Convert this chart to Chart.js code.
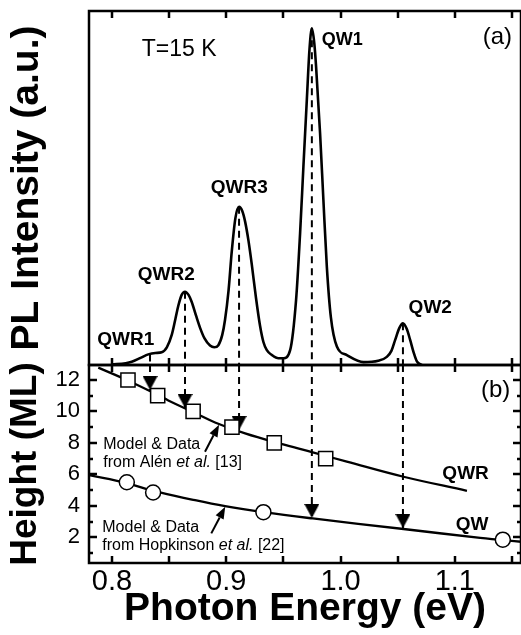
<!DOCTYPE html>
<html>
<head>
<meta charset="utf-8">
<script src="https://cdn.jsdelivr.net/npm/chart.js@4.4.1/dist/chart.umd.min.js"></script>
<style>
  html, body { margin: 0; padding: 0; background: #fff; }
</style>
</head>
<body>
<canvas id="chart" width="521" height="635"></canvas>
<script>
const FONT = "'Liberation Sans', Arial, Helvetica, sans-serif"

// axis ranges
const X_MIN = 0.7799, X_MAX = 1.1579
const H_MIN = 0.37, H_MAX = 12.95

// tick labels
const xTicks = [0.8, 0.9, 1.0, 1.1]
const yTicks = [2, 4, 6, 8, 10, 12]

// (a) PL spectrum, T = 15 K
const plEnergy = [
  0.800, 0.812, 0.8173, 0.825, 0.8318, 0.838, 0.8435, 0.848, 0.8523, 0.8555,
  0.8581, 0.861, 0.8639, 0.867, 0.8698, 0.8735, 0.8771, 0.881, 0.8858, 0.8895,
  0.8931, 0.8965, 0.8989, 0.902, 0.9048, 0.908, 0.9112, 0.914, 0.9165, 0.9195,
  0.9223, 0.926, 0.9296, 0.9325, 0.9355, 0.940, 0.9456, 0.950, 0.9559, 0.9611,
  0.9646, 0.9675, 0.9705, 0.9728, 0.9749, 0.9770, 0.9786, 0.9821, 0.9850, 0.9880,
  0.9915, 0.9968, 1.0055, 1.0200, 1.033, 1.0405, 1.0445, 1.0478, 1.0515, 1.0546,
  1.0578, 1.0609, 1.064, 1.0668, 1.0712,
]
const plIntensity = [
  0.2, 0.5, 0.9, 2.0, 3.0, 3.4, 3.6, 5.0, 8.5, 13.0,
  16.8, 19.8, 20.7, 19.8, 17.8, 14.0, 10.5, 7.5, 5.5, 5.0,
  5.6, 8.5, 12.7, 21.0, 32.0, 41.5, 44.7, 43.5, 40.5, 35.0,
  28.5, 19.0, 11.0, 6.5, 4.2, 2.8, 1.9, 1.9, 4.2, 18.4,
  37.2, 56.0, 74.9, 89.0, 95.1, 91.0, 84.3, 65.4, 46.6, 27.8,
  13.6, 5.2, 2.8, 0.8, 1.2, 2.3, 4.0, 7.1, 10.5, 11.8,
  10.3, 7.1, 3.5, 1.0, 0.0,
]

// peaks and where their arrows land in (b)
const peakNames = ["QWR1", "QWR2", "QWR3", "QW1", "QW2"]
const peakEnergy = [0.8333, 0.8639, 0.9112, 0.9749, 1.0546]
const peakIntensity = [3.0, 20.7, 44.7, 95.1, 11.8]
const arrowHeight = [11.36, 10.22, 8.82, 3.23, 2.59]

// (b) model curves
const qwrModelE = [0.788, 0.8143, 0.840, 0.8493, 0.8712, 0.8902, 0.9165, 0.9471, 0.9757, 1.0055, 1.0551, 1.1106]
const qwrModelH = [12.78, 11.95, 11.05, 10.7, 9.95, 9.3, 8.6, 7.95, 7.4, 6.81, 5.85, 4.96]
const qwModelE = [0.7799, 0.8129, 0.8362, 0.870, 0.899, 0.9325, 0.9757, 1.0551, 1.1222, 1.1579]
const qwModelH = [5.95, 5.45, 4.95, 4.4, 3.98, 3.6, 3.2, 2.53, 1.97, 1.72]

// (b) data points
const qwrDataE = [0.814, 0.840, 0.871, 0.905, 0.942, 0.987]
const qwrDataH = [12, 11, 10, 9, 8, 7]
const qwDataE = [0.813, 0.836, 0.9325, 1.142]
const qwDataH = [5.5, 4.85, 3.6, 1.85]

const xy = (xs, ys) => xs.map((x, i) => ({ x, y: ys[i] }))

// dashed drop lines: peak -> bottom of (a), then top of (b) -> arrow tip
const dropA = peakEnergy.flatMap((e, i) => [{ x: e, y: peakIntensity[i] }, { x: e, y: 0 }, { x: e, y: null }])
const dropB = peakEnergy.flatMap((e, i) => [{ x: e, y: H_MAX }, { x: e, y: arrowHeight[i] }, { x: e, y: null }])

// triangle with its tip at the image centre, so the point sits on the tip
function arrowHead(w, h) {
  const c = document.createElement("canvas")
  c.width = w
  c.height = 2 * h
  const g = c.getContext("2d")
  g.fillStyle = "#000"
  g.beginPath()
  g.moveTo(0, 0)
  g.lineTo(w, 0)
  g.lineTo(w / 2, h)
  g.closePath()
  g.fill()
  return c
}

const textLabels = [
  { axis: "y1", x: 0.826, y: 87.3, text: "T=15 K", size: 23, align: "left" },
  { axis: "y1", x: 1.150, y: 90.7, text: "(a)", size: 24, align: "right" },
  { axis: "y1", x: 0.9836, y: 90.4, text: "QW1", size: 18, bold: true, align: "left" },
  { axis: "y1", x: 0.9114, y: 48.5, text: "QWR3", size: 19, bold: true },
  { axis: "y1", x: 0.8475, y: 24.0, text: "QWR2", size: 19, bold: true },
  { axis: "y1", x: 1.0785, y: 14.6, text: "QW2", size: 19, bold: true },
  { axis: "y1", x: 0.8121, y: 5.6, text: "QWR1", size: 19, bold: true },
  { axis: "y2", x: 1.1485, y: 10.92, text: "(b)", size: 24, align: "right" },
  { axis: "y2", x: 1.1094, y: 5.71, text: "QWR", size: 19, bold: true },
  { axis: "y2", x: 1.1152, y: 2.46, text: "QW", size: 19, bold: true },
  { axis: "y2", x: 0.7924, y: 7.59, parts: [["Model & Data", ""]], size: 16, align: "left" },
  { axis: "y2", x: 0.7924, y: 6.49, parts: [["from Alén ", ""], ["et al.", "italic"], [" [13]", ""]], size: 16, align: "left" },
  { axis: "y2", x: 0.7915, y: 2.36, parts: [["Model & Data", ""]], size: 16, align: "left" },
  { axis: "y2", x: 0.7915, y: 1.19, parts: [["from Hopkinson ", ""], ["et al.", "italic"], [" [22]", ""]], size: 16, align: "left" },
]

const pointers = [
  { from: [0.8814, 7.44], to: [0.8937, 9.16] },
  { from: [0.8869, 2.25], to: [0.8991, 3.94] },
]

const annotations = {
  id: "annotations",
  afterDatasetsDraw(chart) {
    const { ctx, scales } = chart
    const x = scales.x
    ctx.save()
    ctx.fillStyle = "#000"
    ctx.strokeStyle = "#000"
    ctx.textBaseline = "alphabetic"
    for (const l of textLabels) {
      const px = x.getPixelForValue(l.x)
      const py = scales[l.axis].getPixelForValue(l.y)
      const parts = l.parts || [[l.text, l.bold ? "bold" : ""]]
      const fonts = parts.map(p => `${p[1]} ${l.size}px ${FONT}`)
      const widths = parts.map((p, i) => { ctx.font = fonts[i]; return ctx.measureText(p[0]).width })
      const total = widths.reduce((a, b) => a + b, 0)
      let cx = l.align === "left" ? px : l.align === "right" ? px - total : px - total / 2
      ctx.textAlign = "left"
      parts.forEach((p, i) => {
        ctx.font = fonts[i]
        ctx.fillText(p[0], cx, py)
        cx += widths[i]
      })
    }
    for (const p of pointers) {
      const x0 = x.getPixelForValue(p.from[0]), y0 = scales.y2.getPixelForValue(p.from[1])
      const x1 = x.getPixelForValue(p.to[0]), y1 = scales.y2.getPixelForValue(p.to[1])
      const a = Math.atan2(y1 - y0, x1 - x0)
      const len = 12, half = 4.5
      const bx = x1 - len * Math.cos(a), by = y1 - len * Math.sin(a)
      ctx.lineWidth = 2
      ctx.beginPath()
      ctx.moveTo(x0, y0)
      ctx.lineTo(bx, by)
      ctx.stroke()
      ctx.beginPath()
      ctx.moveTo(x1, y1)
      ctx.lineTo(bx + half * Math.sin(a), by - half * Math.cos(a))
      ctx.lineTo(bx - half * Math.sin(a), by + half * Math.cos(a))
      ctx.closePath()
      ctx.fill()
    }
    ctx.restore()
  },
}

// panel frames with inward ticks on every side
const frames = {
  id: "frames",
  afterDraw(chart) {
    const { ctx, chartArea, scales } = chart
    const { left, right } = chartArea
    const x = scales.x, y2 = scales.y2
    ctx.save()
    ctx.setLineDash([])
    ctx.lineCap = "butt"
    ctx.strokeStyle = "#000"
    ctx.lineWidth = 2.5
    for (const id of ["y1", "y2"]) {
      const s = scales[id]
      ctx.strokeRect(left, s.top, right - left, s.bottom - s.top)
    }
    ctx.beginPath()
    for (const id of ["y1", "y2"]) {
      const s = scales[id]
      for (let i = 0; i < 8; i++) {
        const px = Math.round(x.getPixelForValue(0.8 + i * 0.05))
        ctx.moveTo(px, s.top)
        ctx.lineTo(px, s.top + 7)
        ctx.moveTo(px, s.bottom)
        ctx.lineTo(px, s.bottom - 7)
      }
    }
    for (let v = 1; v <= 12; v++) {
      const py = Math.round(y2.getPixelForValue(v))
      const len = v % 2 === 0 ? 8 : 4
      ctx.moveTo(left, py)
      ctx.lineTo(left + len, py)
      ctx.moveTo(right, py)
      ctx.lineTo(right - len, py)
    }
    ctx.stroke()
    ctx.restore()
  },
}

function noPad(s) {
  s.paddingTop = 0
  s.paddingBottom = 0
  s.paddingLeft = 0
  s.paddingRight = 0
}

new Chart(document.getElementById("chart"), {
  type: "line",
  data: {
    datasets: [
      {
        label: "QWR data", type: "scatter", yAxisID: "y2", order: 0,
        data: xy(qwrDataE, qwrDataH),
        pointStyle: "rect", pointRadius: 10, pointBorderWidth: 1.5,
        pointBackgroundColor: "#fff", pointBorderColor: "#000",
      },
      {
        label: "QW data", type: "scatter", yAxisID: "y2", order: 0,
        data: xy(qwDataE, qwDataH),
        pointStyle: "circle", pointRadius: 7.5, pointBorderWidth: 1.5,
        pointBackgroundColor: "#fff", pointBorderColor: "#000",
      },
      {
        label: "arrow heads", type: "scatter", yAxisID: "y2", order: 1,
        data: xy(peakEnergy, arrowHeight),
        pointStyle: arrowHead(15, 14), pointRadius: 8,
      },
      {
        label: "PL", yAxisID: "y1", order: 2,
        data: xy(plEnergy, plIntensity),
        borderColor: "#000", borderWidth: 2.6, pointRadius: 0,
        cubicInterpolationMode: "monotone",
      },
      {
        label: "QWR model", yAxisID: "y2", order: 2,
        data: xy(qwrModelE, qwrModelH),
        borderColor: "#000", borderWidth: 2.3, pointRadius: 0, tension: 0.4,
      },
      {
        label: "QW model", yAxisID: "y2", order: 2,
        data: xy(qwModelE, qwModelH),
        borderColor: "#000", borderWidth: 2.3, pointRadius: 0, tension: 0.4,
      },
      {
        label: "drop (a)", yAxisID: "y1", order: 3,
        data: dropA, borderColor: "#000", borderWidth: 2, borderDash: [7, 5], pointRadius: 0,
      },
      {
        label: "drop (b)", yAxisID: "y2", order: 3,
        data: dropB, borderColor: "#000", borderWidth: 2, borderDash: [7, 5], pointRadius: 0,
      },
    ],
  },
  options: {
    responsive: false,
    animation: false,
    layout: { autoPadding: false, padding: { top: 11, left: 0, right: 0, bottom: 0 } },
    plugins: { legend: { display: false }, tooltip: { enabled: false } },
    scales: {
      x: {
        type: "linear", min: X_MIN, max: X_MAX,
        afterBuildTicks: (s) => { s.ticks = xTicks.map(value => ({ value })) },
        afterFit: (s) => { s.height = 72; noPad(s) },
        grid: { display: false, drawTicks: false },
        border: { display: false },
        ticks: { autoSkip: false, callback: (v) => v.toFixed(1), color: "#000", padding: 2, font: { family: FONT, size: 29 } },
        title: { display: true, text: "Photon Energy (eV)", color: "#000", padding: { top: 0, bottom: 2 }, font: { family: FONT, size: 39, weight: "bold" } },
      },
      // left boxes are stacked in reverse order, so (b) is listed before (a)
      y2: {
        type: "linear", position: "left", stack: "panels", stackWeight: 198,
        min: H_MIN, max: H_MAX,
        afterBuildTicks: (s) => { s.ticks = yTicks.map(value => ({ value })) },
        afterFit: (s) => { s.width = 89; noPad(s) },
        grid: { display: false, drawTicks: false },
        border: { display: false },
        ticks: { autoSkip: false, color: "#000", padding: 9, font: { family: FONT, size: 22 } },
        title: { display: true, text: "Height (ML)", color: "#000", padding: { top: 4, bottom: 0 }, font: { family: FONT, size: 37, weight: "bold" } },
      },
      y1: {
        type: "linear", position: "left", stack: "panels", stackWeight: 354,
        min: 0, max: 100,
        afterFit: (s) => { s.width = 89; noPad(s) },
        grid: { display: false, drawTicks: false },
        border: { display: false },
        ticks: { display: false },
        title: { display: true, text: "PL Intensity (a.u.)", color: "#000", padding: { top: 4, bottom: 0 }, font: { family: FONT, size: 39, weight: "bold" } },
      },
    },
  },
  plugins: [annotations, frames],
})
</script>
</body>
</html>
